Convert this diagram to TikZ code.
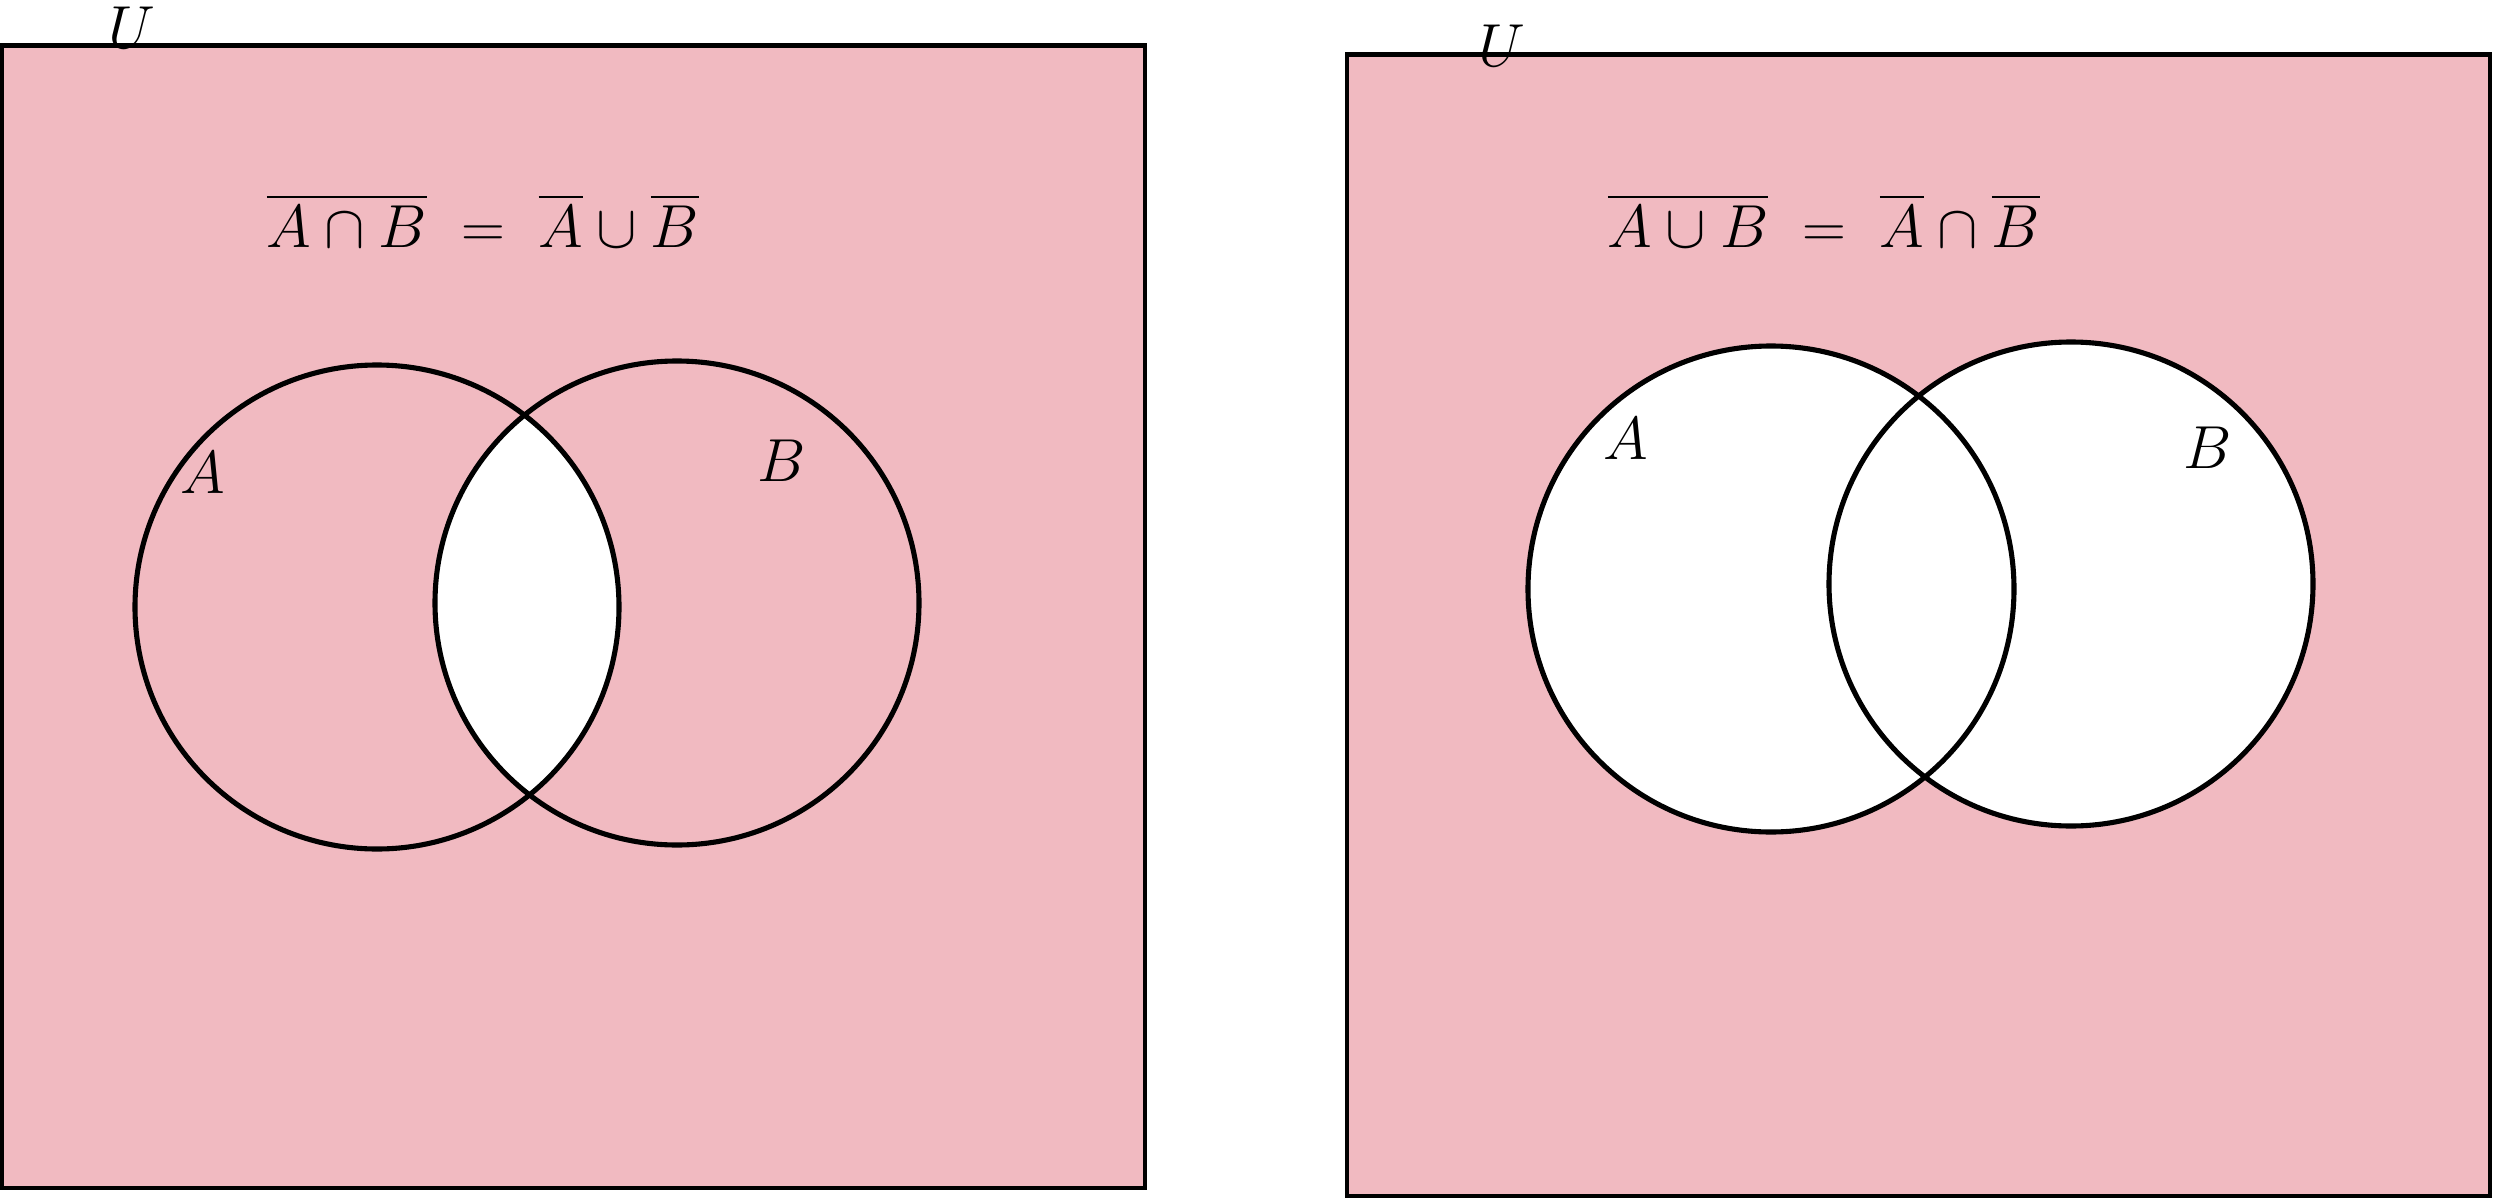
\documentclass[tikz,border=0pt]{standalone}
\usepackage{amsmath}
\definecolor{venpink}{RGB}{241,186,193}
\begin{document}
\begin{tikzpicture}[x=0.01cm,y=-0.01cm,
  lbl/.style={anchor=base,inner sep=0pt,font=\fontsize{16}{19}\selectfont},
  frame/.style={draw=black,line width=1.25pt,fill=venpink},
  ring/.style={draw=black,line width=1.45pt}]
\useasboundingbox (0,0) rectangle (2493,1200);
% ---------- left diagram ----------
\path[frame] (2,45.5) rectangle (1145,1188);
\begin{scope}
  \clip (377,607) circle (242);
  \fill[white] (677,603) circle (242);
\end{scope}
\draw[ring] (377,607) circle (242);
\draw[ring] (677,603) circle (242);
\node[lbl] (U1) at (132,48) {$U$};
\node[lbl] (f1) at (483,247) {$\overline{A\cap B}\ =\ \overline{A}\cup\overline{B}$};
\node[lbl] (A1) at (203,493) {$A$};
\node[lbl] (B1) at (782,481) {$B$};
% ---------- right diagram ----------
\path[frame] (1347,54.5) rectangle (2490,1196);
\fill[white] (1771,589) circle (243);
\fill[white] (2071,584) circle (242);
\draw[ring] (1771,589) circle (243);
\draw[ring] (2071,584) circle (242);
\node[lbl] (U2) at (1502,67) {$U$};
\node[lbl] (f2) at (1824,247) {$\overline{A\cup B}\ =\ \overline{A}\cap\overline{B}$};
\node[lbl] (A2) at (1626,459) {$A$};
\node[lbl] (B2) at (2208,468) {$B$};
\end{tikzpicture}
\end{document}
